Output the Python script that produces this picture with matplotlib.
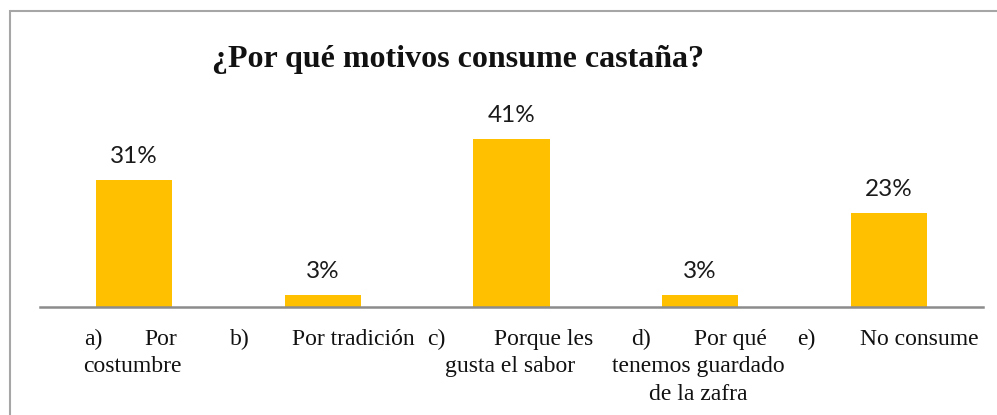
import matplotlib
matplotlib.use("Agg")
import matplotlib.pyplot as plt
from matplotlib.patches import Rectangle

title = "¿Por qué motivos consume castaña?"
values = [31, 3, 41, 3, 23]
value_labels = ["31%", "3%", "41%", "3%", "23%"]
label_prefix = ["a)", "b)", "c)", "d)", "e)"]
label_first = ["Por", "Por tradición", "Porque les", "Por qué", "No consume"]
label_rest = [["costumbre"], [], ["gusta el sabor"], ["tenemos guardado", "de la zafra"], []]

# layout (half-widths of the first label line, in category units)
left_off = [-0.265, -0.493, -0.445, -0.366, -0.483]
right_off = [0.228, 0.488, 0.435, 0.355, 0.477]

W, H = 997, 415
fig = plt.figure(figsize=(W / 100, H / 100), dpi=100)
fig.patch.set_facecolor("white")

# outer chart frame
fig.patches.append(Rectangle((10 / W, -0.2), 1.2, (H - 11) / H + 0.2,
                             transform=fig.transFigure, fill=False,
                             edgecolor="#a6a6a6", linewidth=1.5))

ax = fig.add_axes([40 / W, 108 / H, (983 - 40) / W, 205 / H])
x = list(range(len(values)))
ax.bar(x, values, width=0.403, color="#FFC000", zorder=2)
ax.set_xlim(-0.5, len(values) - 0.5)
ax.set_ylim(0, 50)
for s in ["top", "right", "left"]:
    ax.spines[s].set_visible(False)
ax.spines["bottom"].set_color("#8c8c8c")
ax.spines["bottom"].set_linewidth(1.8)
ax.set_yticks([])
ax.set_xticks([])
ax.patch.set_alpha(0)

for xi, v, lab in zip(x, values, value_labels):
    ax.annotate(lab, (xi, v), xytext=(0, 9), textcoords="offset points",
                ha="center", va="bottom", fontsize=17.5, family="Lato", color="#1a1a1a")

tr = ax.get_xaxis_transform()
serif = "Liberation Serif"
y0 = -32 / 205
dy = 27.5 / 205
for i in x:
    ax.text(i + left_off[i], y0, label_prefix[i], transform=tr, ha="left", va="center",
            fontsize=17, family=serif, color="#111111")
    ax.text(i + right_off[i], y0, label_first[i], transform=tr, ha="right", va="center",
            fontsize=17, family=serif, color="#111111")
    for k, line in enumerate(label_rest[i]):
        ax.text(i - 0.01, y0 - dy * (k + 1), line, transform=tr, ha="center", va="center",
                fontsize=17, family=serif, color="#111111")

fig.text(458 / W, 1 - 59 / H, title, ha="center", va="center", fontsize=23,
         fontweight="bold", family=serif, color="#111111")

fig.savefig("out.png", dpi=100)
